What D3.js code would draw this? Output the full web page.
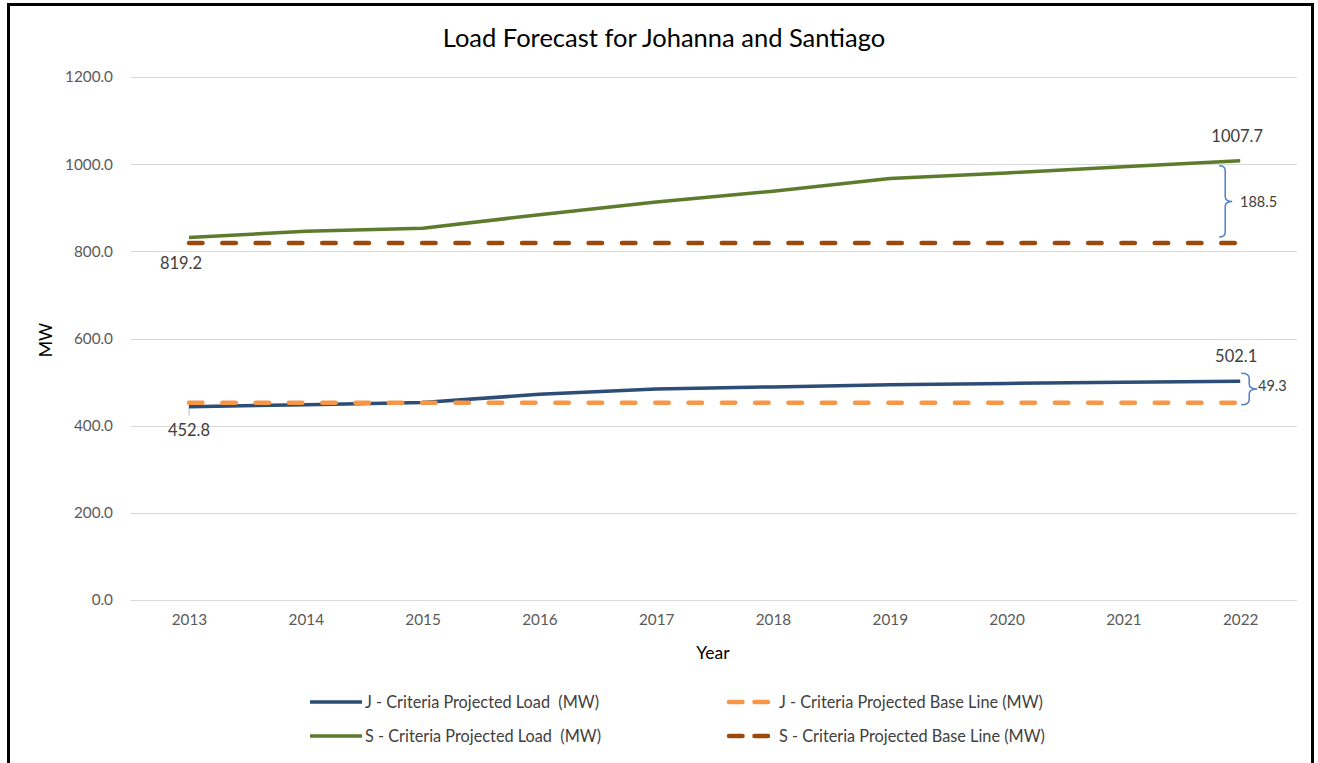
<!DOCTYPE html>
<html><head><meta charset="utf-8">
<script src="https://cdn.jsdelivr.net/npm/d3@7"></script>
<style>body{margin:0;background:#fff;} text{font-family:Lato,"Open Sans",sans-serif;white-space:pre;}</style>
</head><body>
<svg id="c" width="1318" height="763"></svg>
<script>
const years = ["2013","2014","2015","2016","2017","2018","2019","2020","2021","2022"];
const jLoad = [443.5, 448, 453, 472, 484, 489, 494, 497, 499.5, 502.1];
const jBase = [452.8, 452.8, 452.8, 452.8, 452.8, 452.8, 452.8, 452.8, 452.8, 452.8];
const sLoad = [832, 846, 853, 884, 913, 938, 967, 980, 994, 1007.7];
const sBase = [819.2, 819.2, 819.2, 819.2, 819.2, 819.2, 819.2, 819.2, 819.2, 819.2];
const yTicks = [0, 200, 400, 600, 800, 1000, 1200];
const seriesNames = ["J - Criteria Projected Load  (MW)", "J - Criteria Projected Base Line (MW)", "S - Criteria Projected Load  (MW)", "S - Criteria Projected Base Line (MW)"];
const title = "Load Forecast for Johanna and Santiago";

const svg = d3.select("#c");
const L = 130.6, R = 1298.6, T = 77, B = 600;
const x = d3.scalePoint().domain(years).range([L, R]).padding(0.5);
const y = d3.scaleLinear().domain([0, 1200]).range([B, T]);

// frame
svg.append("rect").attr("x", 8.5).attr("y", 4.5).attr("width", 1304).attr("height", 800)
  .attr("fill", "none").attr("stroke", "#000").attr("stroke-width", 3);

// title
svg.append("text").attr("x", 664).attr("y", 47).attr("text-anchor", "middle")
  .attr("font-size", 25.5).attr("fill", "#000").text(title);

// grid
svg.append("g").selectAll("line").data(yTicks).join("line")
  .attr("x1", L).attr("x2", 1297).attr("y1", d => Math.round(y(d)) + 0.5).attr("y2", d => Math.round(y(d)) + 0.5)
  .attr("stroke", "#d9d9d9").attr("stroke-width", 1);

// y axis labels
const yAxis = d3.axisLeft(y).tickValues(yTicks).tickFormat(d => d.toFixed(1)).tickSize(0).tickPadding(0);
const ga = svg.append("g").attr("transform", "translate(113,0)").call(yAxis);
ga.select(".domain").remove();
ga.selectAll("text").attr("font-size", 15.3).attr("fill", "#595959").attr("font-family", "Lato");

// x axis labels
const xAxis = d3.axisBottom(x).tickSize(0).tickPadding(0);
const gx = svg.append("g").attr("transform", "translate(0,614)").call(xAxis);
gx.select(".domain").remove();
gx.selectAll("text").attr("font-size", 15.3).attr("fill", "#595959").attr("font-family", "Lato");

// axis titles
svg.append("text").attr("x", 713).attr("y", 659).attr("text-anchor", "middle").attr("font-size", 17.5).attr("fill", "#000").text("Year");
svg.append("text").attr("transform", "translate(52,340) rotate(-90)").attr("text-anchor", "middle").attr("font-size", 17.5).attr("fill", "#000").text("MW");

const line = d3.line().x((d, i) => x(years[i])).y(d => y(d));

const colJ = "#2c4d75", colJB = "#f79646", colS = "#5d7b2c", colSB = "#9b4a0c";

// leader tick for 452.8
svg.append("line").attr("x1", x(years[0])).attr("x2", x(years[0])).attr("y1", y(jBase[0])).attr("y2", y(jBase[0]) + 13)
  .attr("stroke", "#bfbfbf").attr("stroke-width", 1);

svg.append("path").datum(sBase).attr("d", line).attr("fill", "none").attr("stroke", colSB)
  .attr("stroke-width", 4.5).attr("stroke-dasharray", "13.5,19.8").attr("stroke-linecap", "round");
svg.append("path").datum(sLoad).attr("d", line).attr("fill", "none").attr("stroke", colS).attr("stroke-width", 3.5).attr("stroke-linejoin", "round");
svg.append("path").datum(jLoad).attr("d", line).attr("fill", "none").attr("stroke", colJ).attr("stroke-width", 3.5).attr("stroke-linejoin", "round");
svg.append("path").datum(jBase).attr("d", line).attr("fill", "none").attr("stroke", colJB)
  .attr("stroke-width", 4.5).attr("stroke-dasharray", "13.5,19.8").attr("stroke-linecap", "round");

// data labels
const lab = (tx, ty, t, anchor) => svg.append("text").attr("x", tx).attr("y", ty).attr("text-anchor", anchor || "middle")
  .attr("font-size", 16.5).attr("fill", "#404040").text(t);
const last = years.length - 1;
lab(x(years[0]) - 8, y(sBase[0]) + 26, sBase[0].toFixed(1));
lab(x(years[0]), y(jBase[0]) + 33, jBase[0].toFixed(1));
lab(x(years[last]) - 3, y(sLoad[last]) - 19, sLoad[last].toFixed(1));
lab(x(years[last]) - 4, y(jLoad[last]) - 19, jLoad[last].toFixed(1));

// braces
function brace(bx, y0, y1, w, tick) {
  const m = (y0 + y1) / 2, r = 5;
  return `M${bx - w},${y0} Q${bx},${y0} ${bx},${y0 + r} L${bx},${m - r} Q${bx},${m} ${bx + tick},${m} Q${bx},${m} ${bx},${m + r} L${bx},${y1 - r} Q${bx},${y1} ${bx - w},${y1}`;
}
const braceCol = "#4f81c7";
const sTop = y(sLoad[last]) + 5, sBot = y(sBase[last]) - 6;
svg.append("path").attr("d", brace(x(years[last]) - 15, sTop, sBot, 6, 7)).attr("fill", "none").attr("stroke", braceCol).attr("stroke-width", 1.5);
svg.append("text").attr("x", 1240).attr("y", (sTop + sBot) / 2 + 6).attr("font-size", 14.5).attr("fill", "#404040").text((sLoad[last] - sBase[last]).toFixed(1));
const jTop = y(jLoad[last]) - 8, jBot = y(jBase[last]) + 2;
svg.append("path").attr("d", brace(x(years[last]) + 9, jTop, jBot, 8, 8)).attr("fill", "none").attr("stroke", braceCol).attr("stroke-width", 1.5);
svg.append("text").attr("x", 1258).attr("y", (jTop + jBot) / 2 + 2).attr("font-size", 14.5).attr("fill", "#404040").text((jLoad[last] - jBase[last]).toFixed(1));

// legend
const leg = [
  {name: seriesNames[0], col: colJ, dash: false, lx: 310, ly: 702},
  {name: seriesNames[1], col: colJB, dash: true, lx: 727, ly: 702},
  {name: seriesNames[2], col: colS, dash: false, lx: 310, ly: 736},
  {name: seriesNames[3], col: colSB, dash: true, lx: 727, ly: 736}
];
const lg = svg.append("g");
leg.forEach(d => {
  if (d.dash) {
    lg.append("line").attr("x1", d.lx + 2).attr("x2", d.lx + 45).attr("y1", d.ly).attr("y2", d.ly)
      .attr("stroke", d.col).attr("stroke-width", 4.5).attr("stroke-linecap", "round").attr("stroke-dasharray", "13.5,12");
  } else {
    lg.append("line").attr("x1", d.lx).attr("x2", d.lx + 52).attr("y1", d.ly).attr("y2", d.ly)
      .attr("stroke", d.col).attr("stroke-width", 3.5);
  }
  lg.append("text").attr("x", d.dash ? d.lx + 52 : d.lx + 55).attr("y", d.ly + 6).attr("font-size", 16.3).attr("fill", "#404040").text(d.name);
});
</script>
</body></html>
